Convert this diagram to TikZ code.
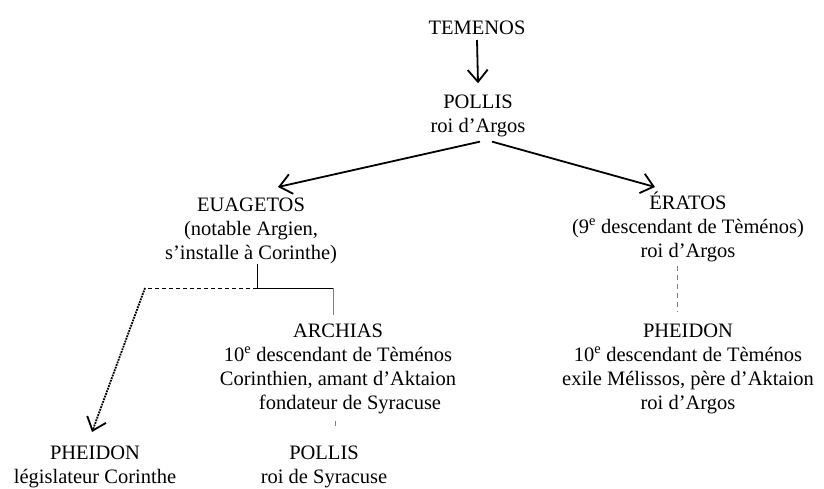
\documentclass[tikz,border=0pt]{standalone}
\usepackage{fontspec}
\setmainfont{Liberation Serif}
\usetikzlibrary{arrows.meta}
\begin{document}
\begin{tikzpicture}[x=1pt,y=-1pt,
  lbl/.style={align=center,inner sep=0pt,anchor=base,font=\fontsize{20.5}{24}\selectfont},
  bigarrow/.style={line width=1.8pt,-{Straight Barb[length=12pt,width=20pt,line width=1.8pt]}},
  dotarrow/.style={line width=1.8pt,densely dotted,-{Straight Barb[length=12pt,width=20pt,line width=1.8pt]}},
  thinline/.style={line width=0.8pt},
  dashline/.style={line width=0.9pt,dash pattern=on 4pt off 3pt},
  greydash/.style={line width=0.8pt,gray,dash pattern=on 5pt off 4pt}]
\useasboundingbox (0,0) rectangle (824,488);
% anchor=base is the baseline of the last line of each node
\node[lbl] (temenos) at (477,34) {TEMENOS};
\node[lbl] (pollis) at (478,132) {POLLIS\\roi d’Argos};
\node[lbl] (euagetos) at (251,259) {EUAGETOS\\(notable Argien,\\s’installe à Corinthe)};
\node[lbl] (eratos) at (688,257) {ÉRATOS\\(9\textsuperscript{e} descendant de Tèménos)\\roi d’Argos};
\node[lbl] (archias) at (338,409) {ARCHIAS\\10\textsuperscript{e} descendant de Tèménos\\Corinthien, amant d’Aktaion\\\hspace*{24pt}fondateur de Syracuse};
\node[lbl] (pheidonR) at (688,409) {PHEIDON\\10\textsuperscript{e} descendant de Tèménos\hspace*{16pt}\\exile Mélissos, père d’Aktaion\\roi d’Argos};
\node[lbl] (pheidonL) at (95,483) {PHEIDON\\législateur Corinthe};
\node[lbl] (pollisS) at (324,483) {POLLIS\\roi de Syracuse};
\coordinate (j0) at (145,288);
\coordinate (j1) at (257,288);
\coordinate (j2) at (333,288);
\coordinate (tipL) at (92,432);
\draw[bigarrow] ([yshift=-6pt]temenos.base) -- ([yshift=11pt]pollis.north);
\draw[bigarrow] ([xshift=2pt,yshift=-5pt]pollis.south) -- ([xshift=27pt,yshift=72pt]euagetos.base);
\draw[bigarrow] ([xshift=14pt,yshift=-5pt]pollis.south) -- ([xshift=-33pt,yshift=70pt]eratos.base);
\draw[thinline] (euagetos.south -| j1) -- (j1) -- (j2);
\draw[thinline,gray] (j2) -- ([yshift=8pt]archias.north -| j2);
\draw[dashline] (j1) -- (j0);
\draw[dotarrow] (j0) -- (tipL);
\draw[greydash] ([yshift=-4pt]eratos.south -| 677,0) -- ([yshift=11pt]pheidonR.north -| 677,0);
\draw[greydash] ([yshift=-7pt]archias.south -| 335,0) -- ([yshift=16pt]pollisS.north -| 335,0);
\end{tikzpicture}
\end{document}
